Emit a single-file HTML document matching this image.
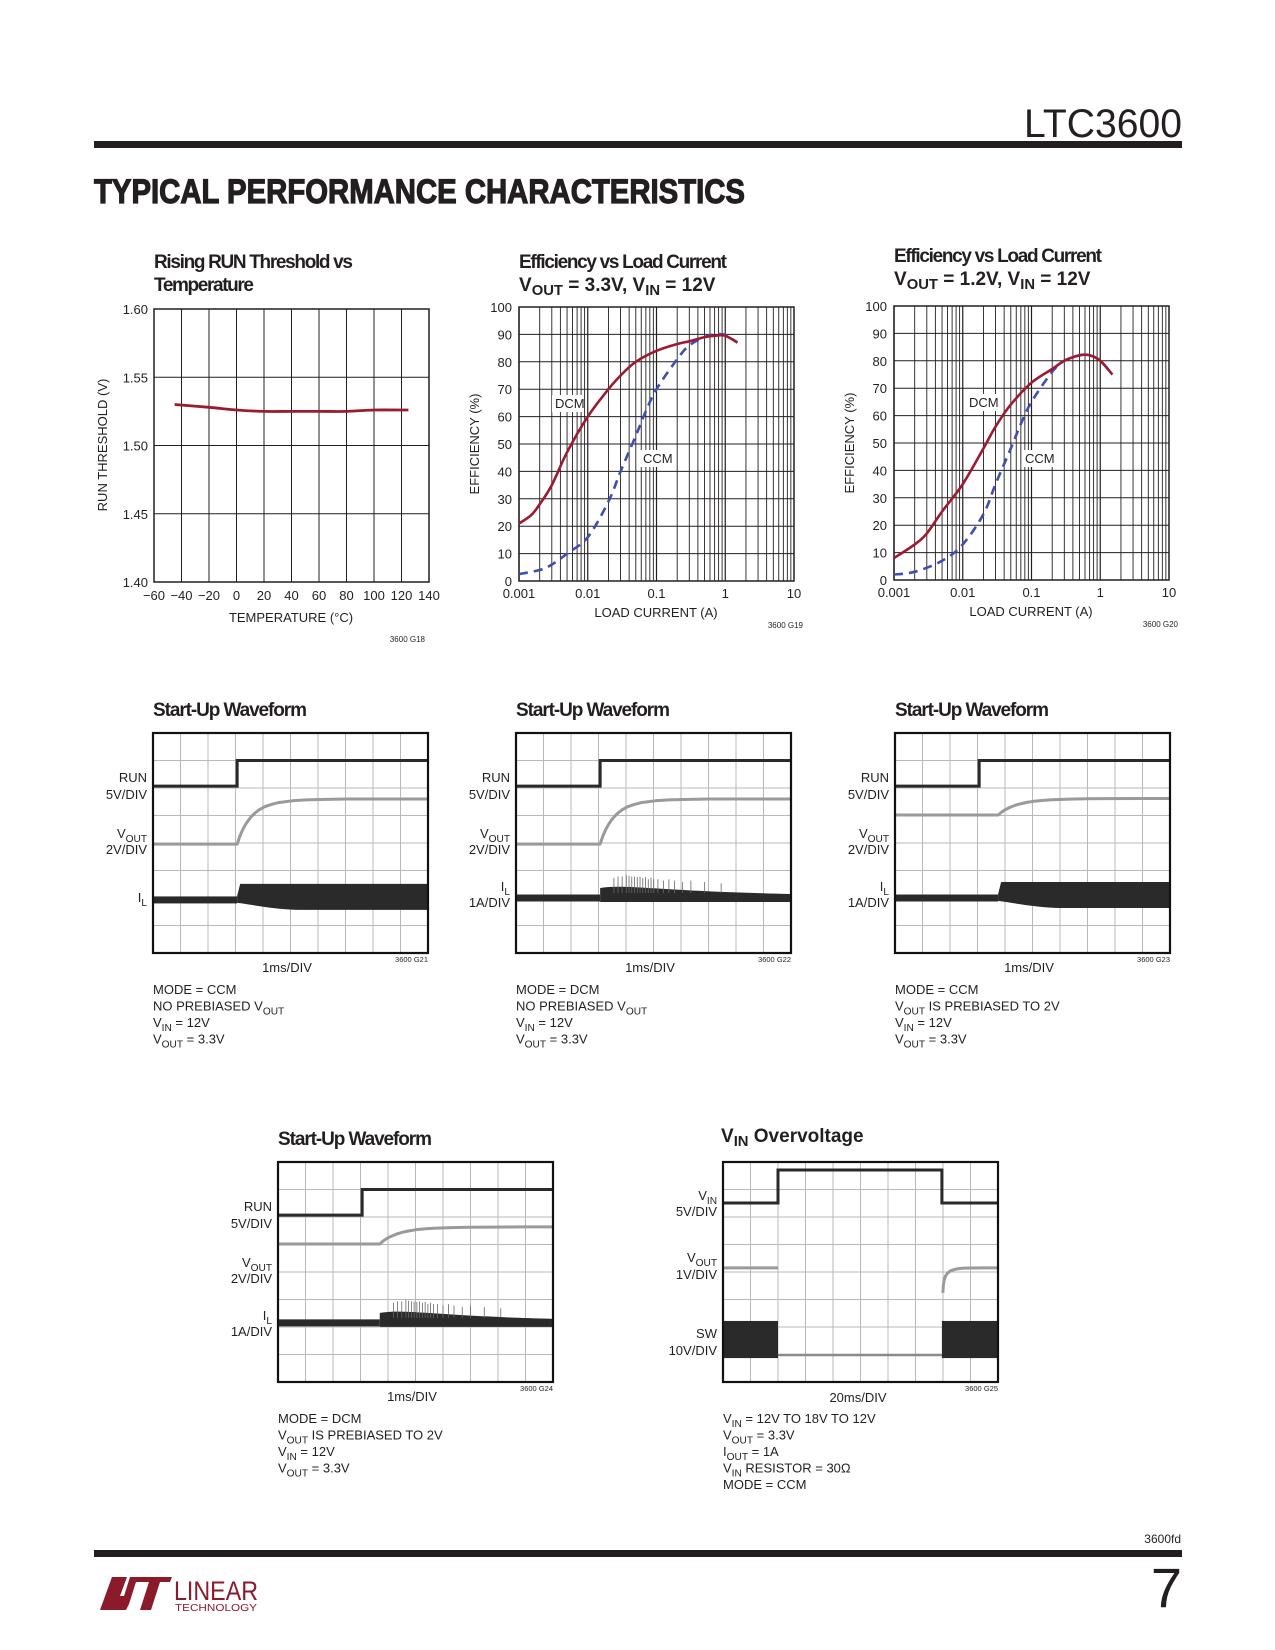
<!DOCTYPE html>
<html><head><meta charset="utf-8"><style>
html,body{margin:0;padding:0;background:#fff;}
svg{display:block;}
text{font-family:"Liberation Sans Narrow","Liberation Sans",sans-serif;fill:#231f20;}
.t{font-family:"Liberation Sans",sans-serif;}
</style></head><body>
<svg id="page" width="1275" height="1650" viewBox="0 0 1275 1650" xmlns="http://www.w3.org/2000/svg">
<text x="1182" y="137" text-anchor="end" font-size="40" class="t" style="font-weight:300" textLength="158" lengthAdjust="spacingAndGlyphs">LTC3600</text>
<rect x="94" y="141" width="1088" height="7" fill="#231f20"/>
<text x="94" y="203" font-size="34" font-weight="bold" class="t" stroke="#231f20" stroke-width="1.2" textLength="651" lengthAdjust="spacingAndGlyphs">TYPICAL PERFORMANCE CHARACTERISTICS</text>
<g id="charts"></g>
<text x="1181" y="1543" text-anchor="end" font-size="12">3600fd</text>
<rect x="94" y="1550" width="1088" height="7" fill="#231f20"/>
<text x="1182" y="1607" text-anchor="end" font-size="56" class="t" style="font-weight:300">7</text>
<g>
<polygon points="100,1610 112,1577 127,1577 120,1596 124,1596 130,1577 172,1577 170,1582 160,1582 151,1610 140,1610 149,1582 136,1582 129,1604 126,1610" fill="#8b1a2b"/>
<text x="174" y="1600" font-size="27" style="fill:#8b1a2b" textLength="84" lengthAdjust="spacingAndGlyphs">LINEAR</text>
<text x="175" y="1611" font-size="10" style="fill:#8b1a2b" textLength="82" lengthAdjust="spacingAndGlyphs">TECHNOLOGY</text>
</g>
</svg>
<script>
// ---------- DATA ----------
const tempTicks=[-60,-40,-20,0,20,40,60,80,100,120,140];
const runTicks=[1.40,1.45,1.50,1.55,1.60];
const tempC=[-45,-20,0,20,40,60,80,100,125];
const runV=[1.530,1.528,1.526,1.525,1.525,1.525,1.525,1.526,1.526];

const effTicks=[0,10,20,30,40,50,60,70,80,90,100];
const loadTicks=[0.001,0.01,0.1,1,10];
const loadTickLabels=["0.001","0.01","0.1","1","10"];
const dcm33Load=[0.001,0.0015,0.002,0.003,0.005,0.01,0.02,0.03,0.05,0.1,0.2,0.3,0.5,0.7,1,1.5];
const dcm33Eff=[21,24,28,35,47,60,70,75,80,84,86.5,87.5,89,89.5,89.5,87];
const ccm33Load=[0.001,0.002,0.003,0.005,0.01,0.02,0.03,0.05,0.07,0.1,0.2,0.3,0.5,0.7,1,1.5];
const ccm33Eff=[2.5,4,6,10,16,29,40,53,62,70,81,86,89,90,89.8,87];
const dcm12Load=[0.001,0.002,0.003,0.005,0.01,0.02,0.03,0.05,0.1,0.2,0.3,0.5,0.7,1,1.5];
const dcm12Eff=[8,13,17,25,35,48,56,64,72,77,80,82,82,80,75];
const ccm12Load=[0.001,0.002,0.005,0.01,0.02,0.03,0.05,0.07,0.1,0.2,0.3,0.5,0.7,1,1.5];
const ccm12Eff=[2,3,7,13,24,35,48,57,65,76,80,82,82,80,75];

// scope traces (in divisions)
const runLowDiv=[1.93,1.93,1.93,1.93];
const runHighDiv=[1.0,1.0,1.0,1.0];
const runStepDiv=[3.06,3.06,3.06,3.06];
const voutLowDiv=[4.04,4.04,2.98,2.98];
const voutHighDiv=[2.4,2.4,2.38,2.36];
const voutStartDiv=[3.06,3.06,3.75,3.7];
const ilDiv=[6.07,6.0,6.0,5.85];
const riseOffsets=[0,0.1,0.2,0.3,0.4,0.5,0.65,0.8,1,1.25,1.5,2,2.5,3,4,7];
const riseFrac=[0,0.18,0.32,0.43,0.52,0.6,0.69,0.76,0.83,0.88,0.92,0.96,0.98,0.99,1,1];
const spikeOffsets=[0.5,0.65,0.8,0.95,1.05,1.15,1.25,1.35,1.45,1.55,1.65,1.75,1.85,1.95,2.1,2.3,2.5,2.7,3.0,3.3,3.8,4.4];
const spikeHeights=[0.55,0.6,0.6,0.65,0.62,0.6,0.6,0.58,0.6,0.55,0.58,0.5,0.55,0.5,0.5,0.45,0.5,0.45,0.4,0.45,0.4,0.35];
const vinLowDiv=1.49, vinHighDiv=0.29, ovStartDiv=2.0, ovEndDiv=7.96;
const vinVoutDiv=3.85, swTopDiv=5.78, swBotDiv=7.13, swOvDiv=7.02;

// ---------- HELPERS ----------
const NS="http://www.w3.org/2000/svg";
const root=document.getElementById('charts');
function mk(tag,attrs,name,parent){
  const el=document.createElementNS(NS,tag);
  for(const k in attrs) el.setAttribute(k,attrs[k]);
  
  
  (parent||root).appendChild(el);
  return el;
}
function rich(el,s){
  const parts=s.split(/(_\{[^}]*\})/);
  let sub=false;
  for(const p of parts){
    if(!p) continue;
    const ts=document.createElementNS(NS,'tspan');
    if(p.startsWith('_{')){ts.textContent=p.slice(2,-1);ts.setAttribute('dy','4');ts.setAttribute('font-size','0.78em');sub=true;}
    else{ts.textContent=p;if(sub){ts.setAttribute('dy','-4');sub=false;}}
    el.appendChild(ts);
  }
}
function txt(x,y,s,size,name,extra){
  const a=Object.assign({x:x,y:y,'font-size':size},extra||{});
  const el=mk('text',a,name);
  rich(el,s);
  return el;
}
function smooth(pts){
  let d='M'+pts[0][0].toFixed(1)+','+pts[0][1].toFixed(1);
  for(let i=0;i<pts.length-1;i++){
    const p0=pts[Math.max(0,i-1)],p1=pts[i],p2=pts[i+1],p3=pts[Math.min(pts.length-1,i+2)];
    const c1=[p1[0]+(p2[0]-p0[0])/6,p1[1]+(p2[1]-p0[1])/6];
    const c2=[p2[0]-(p3[0]-p1[0])/6,p2[1]-(p3[1]-p1[1])/6];
    d+=' C'+c1[0].toFixed(1)+','+c1[1].toFixed(1)+' '+c2[0].toFixed(1)+','+c2[1].toFixed(1)+' '+p2[0].toFixed(1)+','+p2[1].toFixed(1);
  }
  return d;
}
function title(x,y,lines,w){
  lines.forEach((l,i)=>{const e=txt(x,y+i*23,l,19,'chart-title',{'font-weight':'bold'});if(w&&w[i])e.setAttribute('textLength',w[i]);});
}

// ---------- CHART 1: RUN threshold ----------
(function(){
  const L=154,R=429,T=309,B=582;
  const sx=v=>L+(v+60)/200*(R-L), sy=v=>B-(v-1.40)/0.20*(B-T);
  title(154,268,["Rising RUN Threshold vs","Temperature"],[199,100]);
  tempTicks.forEach(t=>{mk('line',{x1:sx(t),x2:sx(t),y1:T,y2:B,stroke:'#231f20','stroke-width':1},'x-gridline');
    txt(sx(t),B+18,(t<0?'\u2212'+(-t):''+t),13,'x-tick-label',{'text-anchor':'middle',class:'t'});});
  runTicks.forEach(t=>{mk('line',{x1:L,x2:R,y1:sy(t),y2:sy(t),stroke:'#231f20','stroke-width':1},'y-gridline');
    txt(L-6,sy(t)+5,t.toFixed(2),13,'y-tick-label',{'text-anchor':'end',class:'t'});});
  mk('rect',{x:L,y:T,width:R-L,height:B-T,fill:'none',stroke:'#231f20','stroke-width':1.5},'plot-frame');
  mk('path',{d:smooth(tempC.map((t,i)=>[sx(t),sy(runV[i])])),fill:'none',stroke:'#9b1b30','stroke-width':2.8},'run-threshold-line');
  txt(0,0,'RUN THRESHOLD (V)',13,'y-axis-title',{'text-anchor':'middle',class:'t',transform:'translate(107,445) rotate(-90)'});
  txt(291,622,'TEMPERATURE (\u00B0C)',13,'x-axis-title',{'text-anchor':'middle',class:'t'});
  txt(425,642,'3600 G18',8,'figure-id',{'text-anchor':'end'});
})();

// ---------- EFFICIENCY CHARTS ----------
function effChart(L,T,titleL,titleY,dL,dE,cL,cE,dcmLab,ccmLab,gid){
  const R=L+275,B=T+274;
  const sx=v=>L+(Math.log10(v)+3)/4*(R-L), sy=v=>B-v/100*(B-T);
  title(L,titleY,titleL,[208,null]);
  for(let dec=-3;dec<1;dec++)for(let m=1;m<10;m++){const x=sx(m*Math.pow(10,dec));
    mk('line',{x1:x,x2:x,y1:T,y2:B,stroke:'#231f20','stroke-width':m==1?1.2:0.9},'x-gridline');}
  effTicks.forEach(t=>{mk('line',{x1:L,x2:R,y1:sy(t),y2:sy(t),stroke:'#231f20','stroke-width':1},'y-gridline');
    txt(L-7,sy(t)+5,''+t,13,'y-tick-label',{'text-anchor':'end',class:'t'});});
  loadTicks.forEach((t,i)=>txt(sx(t),B+17,loadTickLabels[i],13,'x-tick-label',{'text-anchor':'middle',class:'t'}));
  mk('rect',{x:L,y:T,width:R-L,height:B-T,fill:'none',stroke:'#231f20','stroke-width':1.5},'plot-frame');
  mk('rect',{x:dcmLab[0]-3,y:dcmLab[1]-13,width:32,height:17,fill:'#fff'},'dcm-label-bg');
  mk('rect',{x:ccmLab[0]-3,y:ccmLab[1]-13,width:32,height:17,fill:'#fff'},'ccm-label-bg');
  mk('path',{d:smooth(cL.map((v,i)=>[sx(v),sy(cE[i])])),fill:'none',stroke:'#3f4fb0','stroke-width':2.6,'stroke-dasharray':'9,6'},'ccm-efficiency-line');
  mk('path',{d:smooth(dL.map((v,i)=>[sx(v),sy(dE[i])])),fill:'none',stroke:'#9b1b30','stroke-width':2.6},'dcm-efficiency-line');
  txt(dcmLab[0],dcmLab[1],'DCM',13,'dcm-label',{class:'t'});
  txt(ccmLab[0],ccmLab[1],'CCM',13,'ccm-label',{class:'t'});
  txt(0,0,'EFFICIENCY (%)',13,'y-axis-title',{'text-anchor':'middle',class:'t',transform:'translate('+(L-40)+','+(T+137)+') rotate(-90)'});
  txt(L+137,B+36,'LOAD CURRENT (A)',13,'x-axis-title',{'text-anchor':'middle',class:'t'});
  txt(R+9,B+47,'3600 '+gid,8,'figure-id',{'text-anchor':'end'});
}
effChart(519,307,["Efficiency vs Load Current","V_{OUT} = 3.3V, V_{IN} = 12V"],268,dcm33Load,dcm33Eff,ccm33Load,ccm33Eff,[555,408],[643,463],'G19');
effChart(894,306,["Efficiency vs Load Current","V_{OUT} = 1.2V, V_{IN} = 12V"],262,dcm12Load,dcm12Eff,ccm12Load,ccm12Eff,[969,407],[1025,463],'G20');

// ---------- SCOPES ----------
function scopeFrame(L,T){
  const W=275,H=220,d=27.5;
  for(let i=1;i<10;i++) mk('line',{x1:L+i*d,x2:L+i*d,y1:T,y2:T+H,stroke:'#b8b8b8','stroke-width':1},'scope-gridline');
  for(let j=1;j<8;j++) mk('line',{x1:L,x2:L+W,y1:T+j*d,y2:T+j*d,stroke:'#b8b8b8','stroke-width':1},'scope-gridline');
  return {sx:v=>L+v*d, sy:v=>T+v*d, R:L+W, B:T+H};
}
function scopeBorder(L,T){mk('rect',{x:L,y:T,width:275,height:220,fill:'none',stroke:'#111','stroke-width':2.2},'scope-frame');}
const scopes=[
  {L:153,T:733,mode:'ccm',gid:'G21',notes:['MODE = CCM','NO PREBIASED V_{OUT}','V_{IN} = 12V','V_{OUT} = 3.3V'],il:'I_{L}'},
  {L:516,T:733,mode:'dcm',gid:'G22',notes:['MODE = DCM','NO PREBIASED V_{OUT}','V_{IN} = 12V','V_{OUT} = 3.3V'],il:'1A'},
  {L:895,T:733,mode:'ccm',gid:'G23',notes:['MODE = CCM','V_{OUT} IS PREBIASED TO 2V','V_{IN} = 12V','V_{OUT} = 3.3V'],il:'1A'},
  {L:278,T:1162,mode:'dcm',gid:'G24',notes:['MODE = DCM','V_{OUT} IS PREBIASED TO 2V','V_{IN} = 12V','V_{OUT} = 3.3V'],il:'1A'}
];
scopes.forEach((s,k)=>{
  const f=scopeFrame(s.L,s.T), L=s.L, T=s.T;
  txt(L,T-17,'Start-Up Waveform',19,'scope-title',{'font-weight':'bold',textLength:154});
  const rs=f.sx(runStepDiv[k]);
  mk('path',{d:'M'+L+','+f.sy(runLowDiv[k])+' H'+rs+' V'+f.sy(runHighDiv[k])+' H'+f.R,fill:'none',stroke:'#2a2a2a','stroke-width':3},'run-trace');
  const vs=voutStartDiv[k], lo=voutLowDiv[k], hi=voutHighDiv[k], tf=k>=2?1.3:1;
  let d='M'+L+','+f.sy(lo);
  riseOffsets.forEach((o,i)=>{const xd=vs+o*tf; if(xd<10) d+=' L'+f.sx(xd).toFixed(1)+','+f.sy(lo+(hi-lo)*riseFrac[i]).toFixed(1);});
  d+=' L'+f.R+','+f.sy(hi);
  mk('path',{d:d,fill:'none',stroke:'#9a9a9a','stroke-width':3,'stroke-linejoin':'round'},'vout-trace');
  const ic=f.sy(ilDiv[k]), ist=f.sx(vs);
  mk('rect',{x:L,y:ic-3.5,width:ist-L,height:7,fill:'#2a2a2a'},'il-trace-before');
  if(s.mode==='ccm'){
    mk('path',{d:'M'+ist+','+(ic-4)+' L'+(ist+3)+','+(ic-16)+' H'+f.R+' V'+(ic+10)+' H'+f.sx(vs+2.2)+' C'+f.sx(vs+1.2)+','+(ic+9)+' '+f.sx(vs+0.4)+','+(ic+4)+' '+ist+','+(ic+3)+'Z',fill:'#2a2a2a'},'il-trace-ccm');
  } else {
    mk('path',{d:'M'+ist+','+(ic-10)+' C'+f.sx(vs+1)+','+(ic-14)+' '+f.sx(vs+2)+','+(ic-7)+' '+f.R+','+(ic-4)+' V'+(ic+4)+' H'+ist+'Z',fill:'#2a2a2a'},'il-trace-dcm');
    spikeOffsets.forEach((o,i)=>{const x=f.sx(vs+o);if(x<f.R)mk('line',{x1:x,x2:x,y1:ic-5,y2:ic-5-spikeHeights[i]*27.5,stroke:'#666','stroke-width':0.8},'il-spike');});
  }
  scopeBorder(L,T);
  const lx=L-6;
  txt(lx,T+49,'RUN',13,'run-scale-label',{'text-anchor':'end',class:'t'});
  txt(lx,T+66,'5V/DIV',13,'run-scale-label',{'text-anchor':'end',class:'t'});
  txt(lx,T+105,'V_{OUT}',13,'vout-scale-label',{'text-anchor':'end',class:'t'});
  txt(lx,T+121,'2V/DIV',13,'vout-scale-label',{'text-anchor':'end',class:'t'});
  if(s.il==='I_{L}'){txt(lx,T+169,'I_{L}',13,'il-scale-label',{'text-anchor':'end',class:'t'});}
  else{txt(lx,T+158,'I_{L}',13,'il-scale-label',{'text-anchor':'end',class:'t'});
       txt(lx,T+174,'1A/DIV',13,'il-scale-label',{'text-anchor':'end',class:'t'});}
  txt(L+134,T+239,'1ms/DIV',13,'timebase-label',{'text-anchor':'middle',class:'t'});
  txt(f.R,T+229,'3600 '+s.gid,7.5,'figure-id',{'text-anchor':'end'});
  s.notes.forEach((n,i)=>txt(L,T+261+i*16.5,n,13,'test-condition',{class:'t'}));
});

// ---------- VIN OVERVOLTAGE ----------
(function(){
  const L=723,T=1162,f=scopeFrame(L,T);
  txt(721,1142,'V_{IN} Overvoltage',19,'scope-title',{'font-weight':'bold'});
  const a=f.sx(ovStartDiv), b=f.sx(ovEndDiv);
  mk('path',{d:'M'+L+','+f.sy(vinLowDiv)+' H'+a+' V'+f.sy(vinHighDiv)+' H'+b+' V'+f.sy(vinLowDiv)+' H'+f.R,fill:'none',stroke:'#2a2a2a','stroke-width':3},'vin-trace');
  mk('path',{d:'M'+L+','+f.sy(vinVoutDiv)+' H'+a+' M'+(b+1)+','+(f.sy(vinVoutDiv)+25)+' C'+(b+2)+','+(f.sy(vinVoutDiv)-2)+' '+(b+6)+','+f.sy(vinVoutDiv)+' '+f.R+','+f.sy(vinVoutDiv),fill:'none',stroke:'#9a9a9a','stroke-width':3},'vout-trace');
  mk('rect',{x:L,y:f.sy(swTopDiv),width:a-L,height:f.sy(swBotDiv)-f.sy(swTopDiv),fill:'#2a2a2a'},'sw-trace');
  mk('rect',{x:b,y:f.sy(swTopDiv),width:f.R-b,height:f.sy(swBotDiv)-f.sy(swTopDiv),fill:'#2a2a2a'},'sw-trace');
  mk('line',{x1:a,x2:b,y1:f.sy(swOvDiv),y2:f.sy(swOvDiv),stroke:'#8a8a8a','stroke-width':2.5},'sw-trace-ov');
  scopeBorder(L,T);
  const lx=L-6;
  txt(lx,T+38,'V_{IN}',13,'vin-scale-label',{'text-anchor':'end',class:'t'});
  txt(lx,T+54,'5V/DIV',13,'vin-scale-label',{'text-anchor':'end',class:'t'});
  txt(lx,T+100,'V_{OUT}',13,'vout-scale-label',{'text-anchor':'end',class:'t'});
  txt(lx,T+117,'1V/DIV',13,'vout-scale-label',{'text-anchor':'end',class:'t'});
  txt(lx,T+176,'SW',13,'sw-scale-label',{'text-anchor':'end',class:'t'});
  txt(lx,T+193,'10V/DIV',13,'sw-scale-label',{'text-anchor':'end',class:'t'});
  txt(L+135,T+240,'20ms/DIV',13,'timebase-label',{'text-anchor':'middle',class:'t'});
  txt(f.R,T+229,'3600 G25',7.5,'figure-id',{'text-anchor':'end'});
  ['V_{IN} = 12V TO 18V TO 12V','V_{OUT} = 3.3V','I_{OUT} = 1A','V_{IN} RESISTOR = 30\u03A9','MODE = CCM'].forEach((n,i)=>txt(L,T+261+i*16.5,n,13,'test-condition',{class:'t'}));
})();
</script>
</body></html>
